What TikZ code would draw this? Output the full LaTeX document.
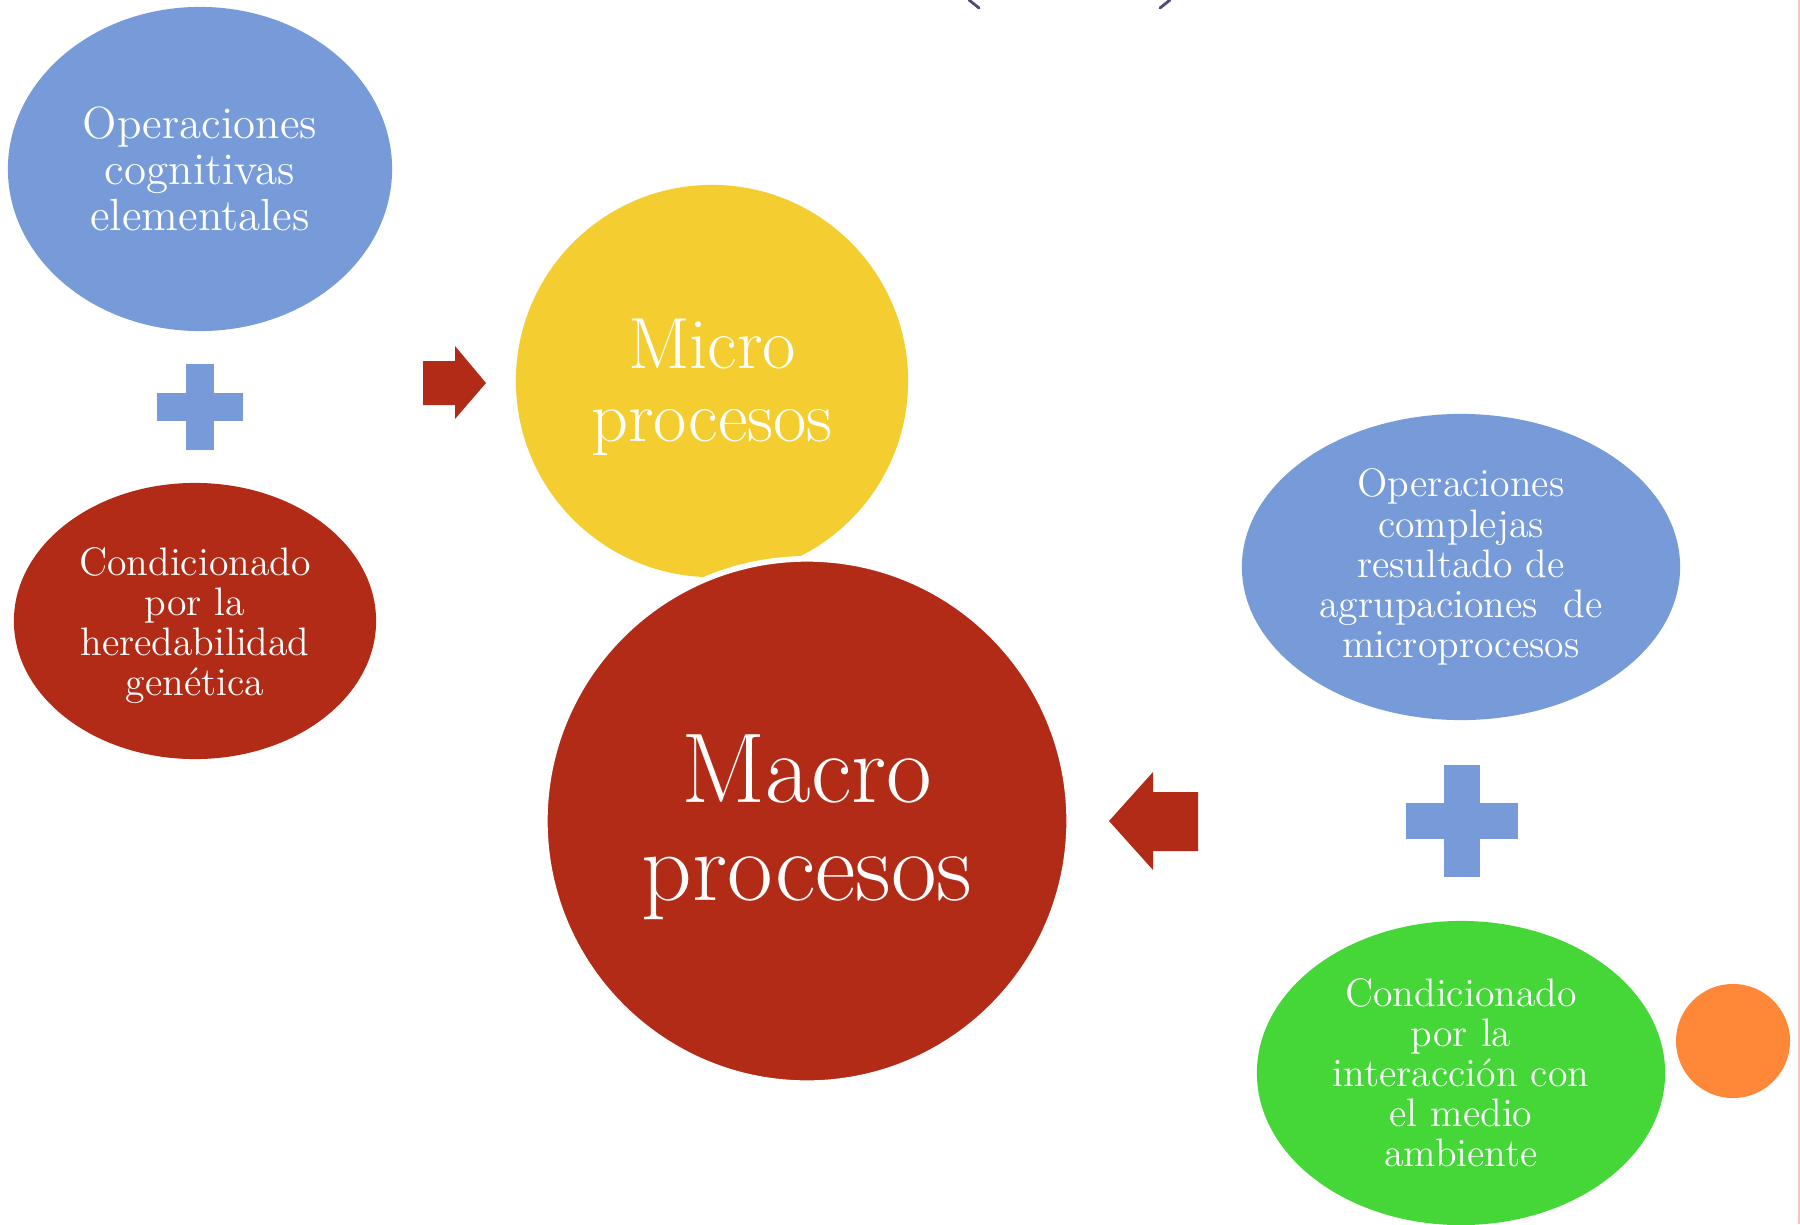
\documentclass[tikz,border=0pt]{standalone}
\usepackage{fontspec}
\usetikzlibrary{shapes.geometric}
\definecolor{opblue}{HTML}{779AD9}
\definecolor{microyellow}{HTML}{F4CE30}
\definecolor{macrored}{HTML}{B22B17}
\definecolor{envgreen}{HTML}{44D737}
\definecolor{dotorange}{HTML}{FF8838}
\tikzset{
  bubble/.style={ellipse, inner sep=0pt, text=white, align=center},
  smalltext/.style={font=\fontsize{11.3}{11.4}\selectfont},
  bigtext/.style={text=white, align=center, inner sep=0pt},
}

\begin{document}
\begin{tikzpicture}[x=0.01cm, y=-0.01cm]
			%%%%% START %%%%%
			\useasboundingbox (0,0) rectangle (1800,1224);
			\fill[white] (0,0) rectangle (1800,1224);
			
			% bits of the slide frame
			\draw[line width=0.8pt, color=black!60!blue!40!gray, line cap=round] (969,0) -- (979,8);
			\draw[line width=0.8pt, color=black!60!blue!40!gray, line cap=round] (1170,0) -- (1160,8);
			\draw[line width=0.4pt, color=red!25] (1799,0) -- (1799,1224);
			
			% left column
			\node[bubble, fill=opblue, minimum width=3.84cm, minimum height=3.24cm,
			      font=\fontsize{12.8}{13}\selectfont] (cogn) at (200,169) {Operaciones\\cognitivas\\elementales};
			\node[bubble, smalltext, fill=macrored, minimum width=3.62cm, minimum height=2.76cm] (gene) at (195,621) {\\[-1pt]Condicionado\\por la\\heredabilidad\\genética};
			
			% right column
			\node[bubble, smalltext, fill=opblue, minimum width=4.38cm, minimum height=3.06cm] (compl) at (1461,567) {Operaciones\\complejas\\resultado de\\agrupaciones~ de\\microprocesos};
			\node[bubble, smalltext, fill=envgreen, minimum width=4.08cm, minimum height=3.04cm] (amb) at (1461,1073) {Condicionado\\por la\\interacción con\\el medio\\ambiente};
			\node[circle, fill=dotorange, minimum size=1.14cm, inner sep=0pt] (dot) at (1733,1041) {};
			
			% plus signs
			\foreach \cx/\cy/\a/\t in {200/407/43/14, 1462/821/56/18}{
			  \fill[opblue] (\cx-\a,\cy-\t) rectangle (\cx+\a,\cy+\t);
			  \fill[opblue] (\cx-\t,\cy-\a) rectangle (\cx+\t,\cy+\a);
			}
			
			% centre circles
			\node[circle, fill=microyellow, minimum size=3.92cm, inner sep=0pt] (micro) at (712,381) {};
			\node[bigtext, font=\fontsize{20.6}{20.5}\selectfont] (micro-txt) at ([yshift=-1.8pt]micro.center) {Micro\\procesos};
			\node[circle, fill=macrored, draw=white, line width=1.6pt, minimum size=5.24cm, inner sep=0pt] (macro) at (807,821) {};
			\node[bigtext, font=\fontsize{28.2}{27.8}\selectfont] (macro-txt) at ([yshift=-1.8pt]macro.center) {Macro\\procesos};
			
			% block arrows
			\fill[macrored] (423,361) -- (455,361) -- (455,346) -- (486,383) -- (455,419) -- (455,405) -- (423,405) -- cycle;
			\fill[macrored] (1198,792) -- (1153,792) -- (1153,772) -- (1109,821) -- (1153,870) -- (1153,851) -- (1198,851) -- cycle;
			
			%%%%% END %%%%%
\end{tikzpicture}
\end{document}
